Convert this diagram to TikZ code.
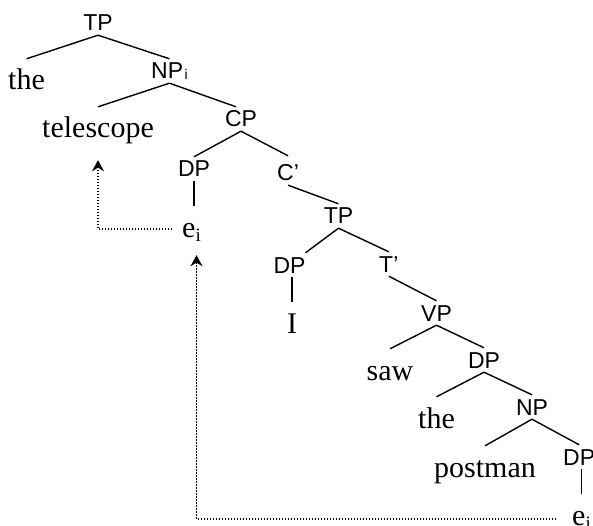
\documentclass[tikz,border=0pt]{standalone}
\usepackage{fontspec}
\setmainfont{Liberation Serif}
\newfontfamily\labfont{Liberation Sans}
\usetikzlibrary{arrows.meta}

\tikzset{
  cat/.style={font=\labfont\fontsize{23}{23}\selectfont, text height=16pt, text depth=0pt,
              inner xsep=0pt, inner ysep=4pt},
  word/.style={font=\fontsize{30}{30}\selectfont, text height=20pt, text depth=4pt,
               inner xsep=0pt, inner ysep=11pt},
  branch/.style={line width=1.4pt},
  trace/.style={line width=1.3pt, dash pattern=on 1.3pt off 1.7pt,
                -{Stealth[length=11pt,width=12pt,inset=3.5pt]}}
}
\newcommand{\catsub}{\hspace{1.5pt}\raisebox{-1pt}{\fontsize{14}{14}\selectfont i}}
\newcommand{\wordsub}{\raisebox{-4pt}{\fontsize{19}{19}\selectfont i}}

\begin{document}
\begin{tikzpicture}[x=1pt,y=-1pt]
\useasboundingbox (0,0) rectangle (593,526);

% labels and words
\node[cat,anchor=base] (tp1) at (98,31) {TP};
\node[word,anchor=base] (the1) at (26.5,90) {the};
\node[cat,anchor=base west] (npi) at (151,79) {NP\catsub};
\node[word,anchor=base] (tel) at (98,138) {telescope};
\node[cat,anchor=base] (cp) at (241,127) {CP};
\node[cat,anchor=base] (dp1) at (194,177) {DP};
\node[cat,anchor=base west] (cbar) at (277,181) {C’};
\node[word,anchor=base west] (e1) at (182,237) {e\wordsub};
\node[cat,anchor=base] (tp2) at (338.5,224) {TP};
\node[cat,anchor=base] (dp2) at (289.5,273) {DP};
\node[cat,anchor=base west] (tbar) at (379,272) {T’};
\node[word,anchor=base] (pron) at (292,333) {I};
\node[cat,anchor=base] (vp) at (436.5,321) {VP};
\node[word,anchor=base] (saw) at (390,380) {saw};
\node[cat,anchor=base] (dp3) at (484,368) {DP};
\node[word,anchor=base] (the2) at (436.5,428) {the};
\node[cat,anchor=base] (np2) at (532,415) {NP};
\node[word,anchor=base] (post) at (485,477) {postman};
\node[cat,anchor=base west] (dp4) at (563,465) {DP};
\node[word,anchor=base west] (e2) at (572,525) {e\wordsub};

% branches
\draw[branch] (tp1.south) -- (the1.north);
\draw[branch] (tp1.south) -- (npi.north);
\draw[branch] (npi.south) -- (tel.north);
\draw[branch] (npi.south) -- ([xshift=-5pt]cp.north);
\draw[branch] (cp.south) -- (dp1.north);
\draw[branch] (cp.south) -- ([yshift=5pt]cbar.north);
\draw[branch] (dp1.south) -- (dp1.south |- e1.north);
\draw[branch] (cbar.south) -- (tp2.north);
\draw[branch] (tp2.south) -- ([xshift=16pt]dp2.north);
\draw[branch] (tp2.south) -- (tbar.north);
\draw[branch] (pron.north |- dp2.south) -- (pron.north);
\draw[branch] (tbar.south) -- (vp.north);
\draw[branch] (vp.south) -- (saw.north);
\draw[branch] (vp.south) -- (dp3.north);
\draw[branch] (dp3.south) -- (the2.north);
\draw[branch] (dp3.south) -- (np2.north);
\draw[branch] (np2.south) -- (post.north);
\draw[branch] (np2.south) -- (dp4.north);
\draw[branch] (e2.north |- dp4.south) -- (e2.north);

% movement traces
\draw[trace] ([xshift=-10pt]e1.west) -| ([yshift=-7pt]tel.south);
\draw[trace] ([xshift=-16pt,yshift=-2pt]e2.west) -| ([xshift=5pt,yshift=-3pt]e1.south);
\end{tikzpicture}
\end{document}
